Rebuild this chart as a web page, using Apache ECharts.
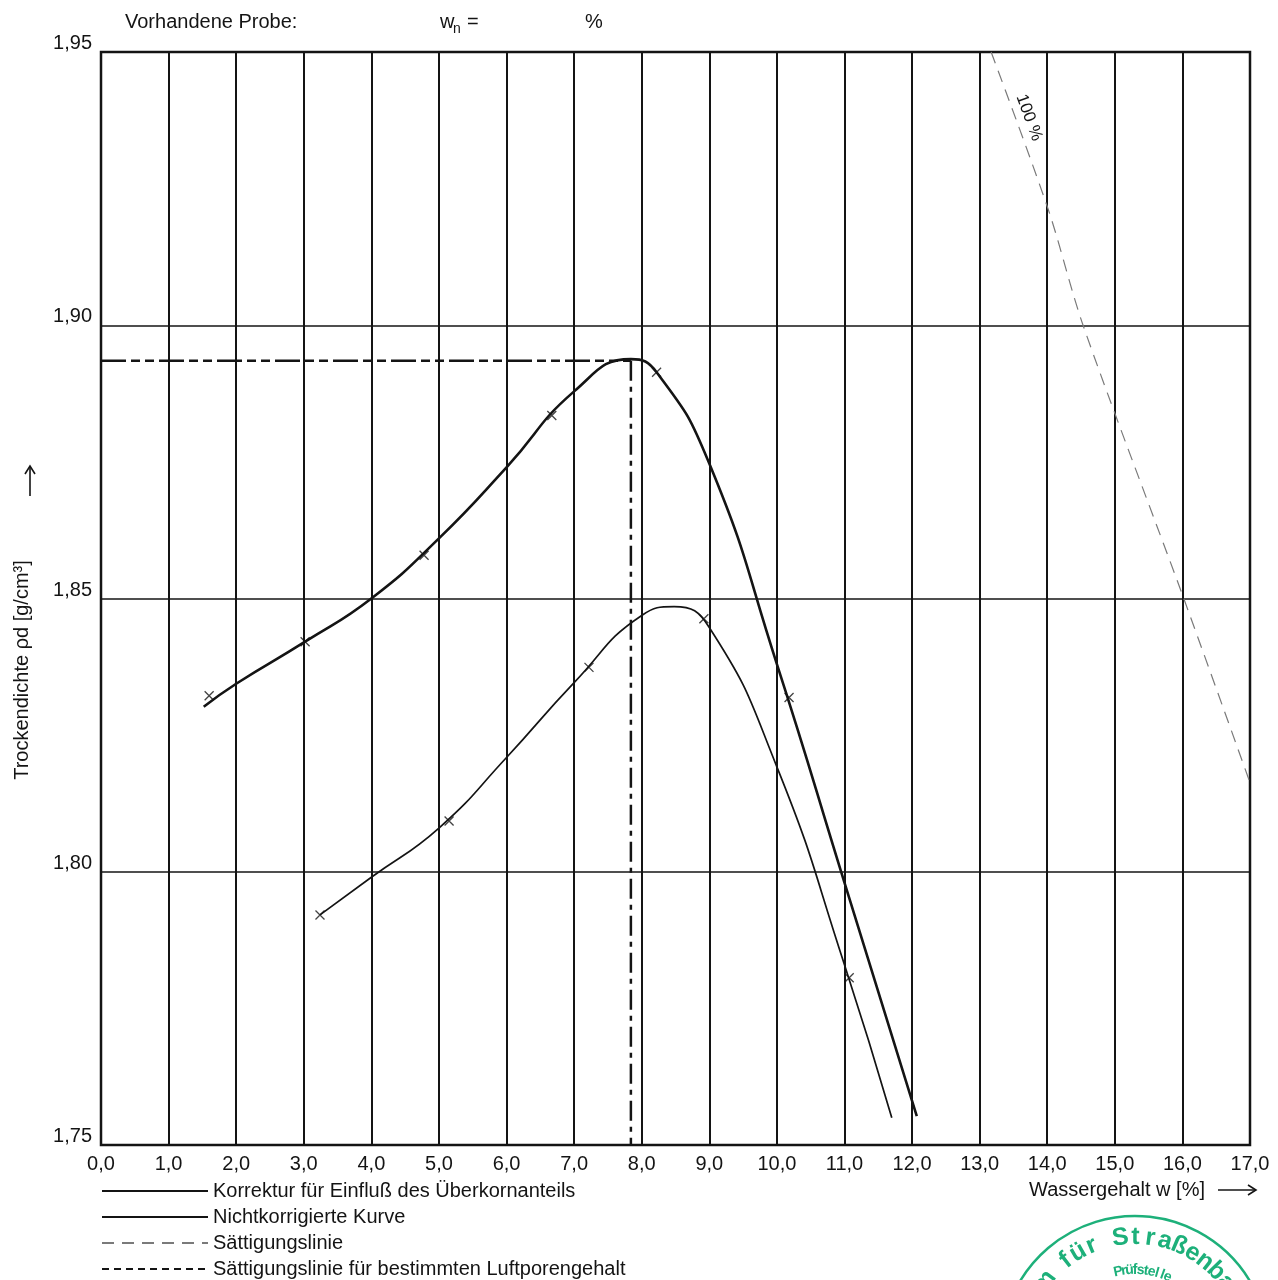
<!DOCTYPE html>
<html><head><meta charset="utf-8">
<script src="https://cdn.jsdelivr.net/npm/echarts@6/dist/echarts.min.js"></script>
<style>html,body{margin:0;padding:0;background:#fff}#c{width:1278px;height:1280px}</style>
</head><body><div id="c"></div>
<script>
// ---- data ----
const seriesNames = [
  'Korrektur für Einfluß des Überkornanteils',
  'Nichtkorrigierte Kurve',
  'Sättigungslinie',
  'Sättigungslinie für bestimmten Luftporengehalt'
];
// corrected curve (upper, bold)
const correctedW   = [1.52, 2.0, 3.02, 4.0, 5.0, 6.0, 7.0, 7.84, 8.22, 9.0, 10.0, 11.0, 12.07];
const correctedRho = [1.8302, 1.8344, 1.8421, 1.850, 1.861, 1.874, 1.8879, 1.8938, 1.8914, 1.8747, 1.838, 1.798, 1.7553];
// uncorrected curve (lower)
const lowerW   = [3.24, 4.0, 5.0, 6.0, 7.0, 8.0, 8.48, 9.0, 10.0, 11.0, 11.7];
const lowerRho = [1.7921, 1.799, 1.808, 1.8209, 1.8346, 1.8469, 1.8485, 1.8447, 1.8192, 1.783, 1.755];
// measured points (x marks)
const corrMarkW   = [1.6, 3.02, 4.78, 6.67, 8.22, 10.18];
const corrMarkRho = [1.8322, 1.8421, 1.8579, 1.8835, 1.8914, 1.8319];
const lowMarkW    = [3.24, 5.15, 7.22, 8.92, 11.07];
const lowMarkRho  = [1.7921, 1.8093, 1.8374, 1.8463, 1.7806];
// saturation line 100 %
const satW   = [13.17, 14.02, 14.53, 16.02, 17.0];
const satRho = [1.95, 1.921, 1.90, 1.85, 1.8163];
const satLabel = '100 %';
const satLabelAt = [13.73, 1.938];
// optimum (Proctor density / optimum water content)
const optW = 7.84;
const optRho = 1.8935;
// axes
const xMin = 0, xMax = 17, xStep = 1;
const yMin = 1.75, yMax = 1.95, yStep = 0.05;

const zip = (a, b) => a.map((v, i) => [v, b[i]]);
const FONT = "'Liberation Sans', Arial, Helvetica, sans-serif";
const INK = '#141414';
const crossSym = 'path://M0,0L10,10M10,0L0,10';

const chart = echarts.init(document.getElementById('c'), null, {renderer: 'canvas'});

// stamp (decoration)
const stampColor = '#1db07a';
const stampEls = [];
const sc = {x: 1135, y: 1350};
stampEls.push({type: 'arc', shape: {cx: sc.x, cy: sc.y, r: 134, startAngle: (-62 - 90) * Math.PI / 180, endAngle: (60 - 90) * Math.PI / 180, clockwise: true},
  style: {stroke: stampColor, lineWidth: 2.5, fill: 'none'}, z: 50});
const stampText = 'm für Straßenbau';
for (let i = 0; i < stampText.length; i++) {
  const th = (-53 + i * (114 / (stampText.length - 1))) * Math.PI / 180;
  const r = 113;
  stampEls.push({type: 'text', x: sc.x + r * Math.sin(th), y: sc.y - r * Math.cos(th), rotation: -th,
    style: {text: stampText[i], fontSize: 25, fontWeight: 'bold', fontFamily: FONT, fill: stampColor, align: 'center', verticalAlign: 'middle', textAlign: 'center', textVerticalAlign: 'middle'}, z: 50});
}
const stampText2 = 'Prüfstelle';
for (let i = 0; i < stampText2.length; i++) {
  const th = (-12 + i * (36 / (stampText2.length - 1))) * Math.PI / 180;
  const r = 80;
  stampEls.push({type: 'text', x: sc.x + r * Math.sin(th), y: sc.y - r * Math.cos(th), rotation: -th,
    style: {text: stampText2[i], fontSize: 14, fontWeight: 'bold', fontFamily: FONT, fill: stampColor, align: 'center', verticalAlign: 'middle', textAlign: 'center', textVerticalAlign: 'middle'}, z: 50});
}

function txt(x, y, text, size, align, extra) {
  return Object.assign({type: 'text', x: x, y: y,
    style: {text: text, fontSize: size, fontFamily: FONT, fill: INK, align: align || 'left', textAlign: align || 'left', verticalAlign: 'middle', textVerticalAlign: 'middle'}}, extra || {});
}

const option = {
  animation: false,
  backgroundColor: '#fff',
  grid: {left: 101, right: 28, top: 52, bottom: 135, show: true, borderColor: INK, borderWidth: 2.5, backgroundColor: 'transparent'},
  xAxis: {
    type: 'value', min: xMin, max: xMax, interval: xStep,
    axisLine: {show: false}, axisTick: {show: false},
    splitLine: {show: true, lineStyle: {color: INK, width: 2}},
    axisLabel: {formatter: v => v.toFixed(1).replace('.', ','), fontSize: 20, color: INK, fontFamily: FONT, margin: 9, showMinLabel: true, showMaxLabel: true}
  },
  yAxis: {
    type: 'value', min: yMin, max: yMax, interval: yStep,
    axisLine: {show: false}, axisTick: {show: false},
    splitLine: {show: true, lineStyle: {color: INK, width: 1.6}},
    axisLabel: {formatter: v => v.toFixed(2).replace('.', ','), fontSize: 20, color: INK, fontFamily: FONT, margin: 9, verticalAlign: 'bottom', lineHeight: 17}
  },
  legend: {
    orient: 'vertical', left: 101, top: 1181, bottom: 0, padding: 0,
    itemWidth: 106, itemHeight: 16, itemGap: 6, selectedMode: false,
    itemStyle: {opacity: 0},
    textStyle: {fontSize: 20, color: INK, fontFamily: FONT, lineHeight: 20},
    data: seriesNames
  },
  series: [
    {name: seriesNames[0], type: 'line', data: zip(correctedW, correctedRho), smooth: 0.5, symbol: 'none',
     lineStyle: {color: INK, width: 2.6}, z: 5},
    {name: seriesNames[1], type: 'line', data: zip(lowerW, lowerRho), smooth: 0.5, symbol: 'none',
     lineStyle: {color: INK, width: 1.7}, z: 5},
    {name: seriesNames[2], type: 'line', data: zip(satW, satRho), smooth: 0.3, symbol: 'none',
     lineStyle: {color: '#7a7a7a', width: 1.2, type: [12, 8]}, z: 4,
     markPoint: {symbol: 'circle', symbolSize: 0, silent: true,
       label: {show: true, position: 'inside', rotate: -70, formatter: satLabel, fontSize: 17, color: INK, fontFamily: FONT},
       data: [{coord: satLabelAt}]}},
    {name: seriesNames[3], type: 'line', data: [], symbol: 'none',
     lineStyle: {color: INK, width: 1.6, type: [7, 5]}},
    {type: 'line', data: [[xMin, optRho], [optW, optRho]], symbol: 'none', silent: true,
     lineStyle: {color: INK, width: 2.5, type: [25, 5, 9, 5, 9, 5]}, z: 6},
    {type: 'line', data: [[optW, optRho], [optW, yMin]], symbol: 'none', silent: true,
     lineStyle: {color: INK, width: 2.5, type: [20, 6, 5, 6]}, z: 6},
    {type: 'scatter', data: zip(corrMarkW, corrMarkRho).concat(zip(lowMarkW, lowMarkRho)), symbol: crossSym, symbolSize: 9,
     itemStyle: {color: 'none', borderColor: INK, borderWidth: 1.3}, silent: true, z: 7}
  ],
  graphic: [
    txt(125, 22, 'Vorhandene Probe:', 20),
    txt(440, 22, 'w', 20),
    txt(453, 29, 'n', 14),
    txt(467, 22, '=', 20),
    txt(585, 22, '%', 20),
    txt(22, 670, 'Trockendichte ρd [g/cm³]', 20, 'center', {rotation: Math.PI / 2}),
    {type: 'line', shape: {x1: 30, y1: 496, x2: 30, y2: 466}, style: {stroke: INK, lineWidth: 1.6}},
    {type: 'polyline', shape: {points: [[25, 474], [30, 466], [35, 474]]}, style: {stroke: INK, lineWidth: 1.6, fill: 'none'}},
    txt(1205, 1190, 'Wassergehalt w [%]', 20, 'right'),
    {type: 'line', shape: {x1: 1218, y1: 1190, x2: 1256, y2: 1190}, style: {stroke: INK, lineWidth: 1.6}},
    {type: 'polyline', shape: {points: [[1248, 1185], [1256, 1190], [1248, 1195]]}, style: {stroke: INK, lineWidth: 1.6, fill: 'none'}}
  ].concat(stampEls)
};
chart.setOption(option);
</script>
</body></html>
